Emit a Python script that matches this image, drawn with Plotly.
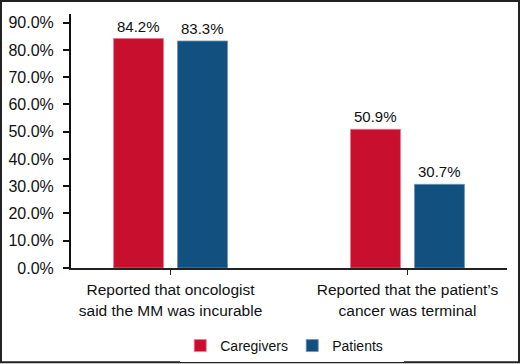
import plotly.graph_objects as go

categories = ["Reported that oncologist<br>said the MM was incurable",
              "Reported that the patient’s<br>cancer was terminal"]
caregivers = [84.2, 50.9]
patients = [83.3, 30.7]
ytick_vals = [0, 10, 20, 30, 40, 50, 60, 70, 80, 90]

RED = "#c8102e"
BLUE = "#12507f"
FONT = "Liberation Sans, Arial, sans-serif"

x_pos = list(range(len(categories)))

fig = go.Figure()
fig.add_trace(go.Bar(
    x=x_pos, y=caregivers, name="Caregivers",
    marker=dict(color=RED, line=dict(color="#e8798a", width=0.8)),
))
fig.add_trace(go.Bar(
    x=x_pos, y=patients, name="Patients",
    marker=dict(color=BLUE, line=dict(color="#6f93b3", width=0.8)),
))

annotations = []
for series, shift in ((caregivers, -32), (patients, 32)):
    for i, v in zip(x_pos, series):
        annotations.append(dict(x=i, y=v, xref="x", yref="y", text=f"{v:.1f}%",
                                showarrow=False, xshift=shift, yshift=2,
                                yanchor="bottom", xanchor="center",
                                font=dict(size=15, family=FONT, color="#111")))

fig.update_layout(
    width=520, height=364,
    margin=dict(l=71, r=13, t=14, b=95.5, autoexpand=False),
    paper_bgcolor="white", plot_bgcolor="white",
    barmode="group", bargap=0.46, bargroupgap=0.219,
    font=dict(family=FONT, size=15, color="#111"),
    showlegend=True,
    legend=dict(orientation="h", xref="container", yref="container",
                x=0.562, xanchor="center", y=0.0495, yanchor="middle",
                font=dict(size=14, family=FONT, color="#111"), itemwidth=30,
                entrywidth=67, traceorder="normal"),
    annotations=annotations,
    xaxis=dict(range=[-0.42, 1.42], tickmode="array", tickvals=x_pos, ticktext=categories,
               showline=True, linecolor="#222", linewidth=1.5, ticks="outside",
               ticklen=5, tickcolor="#222", tickwidth=1.2, showgrid=False, zeroline=False,
               ticklabelstandoff=2, automargin=False,
               tickfont=dict(size=15.5, family=FONT, color="#111")),
    yaxis=dict(range=[0, 93.2], tickmode="array", tickvals=ytick_vals,
               ticktext=[f"{v:.1f}%" for v in ytick_vals],
               showline=True, linecolor="#111", linewidth=2, ticks="outside",
               ticklen=6, tickcolor="#111", tickwidth=2, showgrid=False, zeroline=False,
               ticklabelstandoff=6, automargin=False,
               tickfont=dict(size=16, family=FONT, color="#111")),
    shapes=[dict(type="rect", xref="paper", yref="paper",
                 x0=-0.1606, x1=1.0275, y0=-0.371, y1=1.051,
                 line=dict(color="#222", width=2), fillcolor="rgba(0,0,0,0)")],
)

fig.write_html("out.html", config={"displayModeBar": False},
               post_script="document.body.style.margin='0px';document.body.style.overflow='hidden';")
